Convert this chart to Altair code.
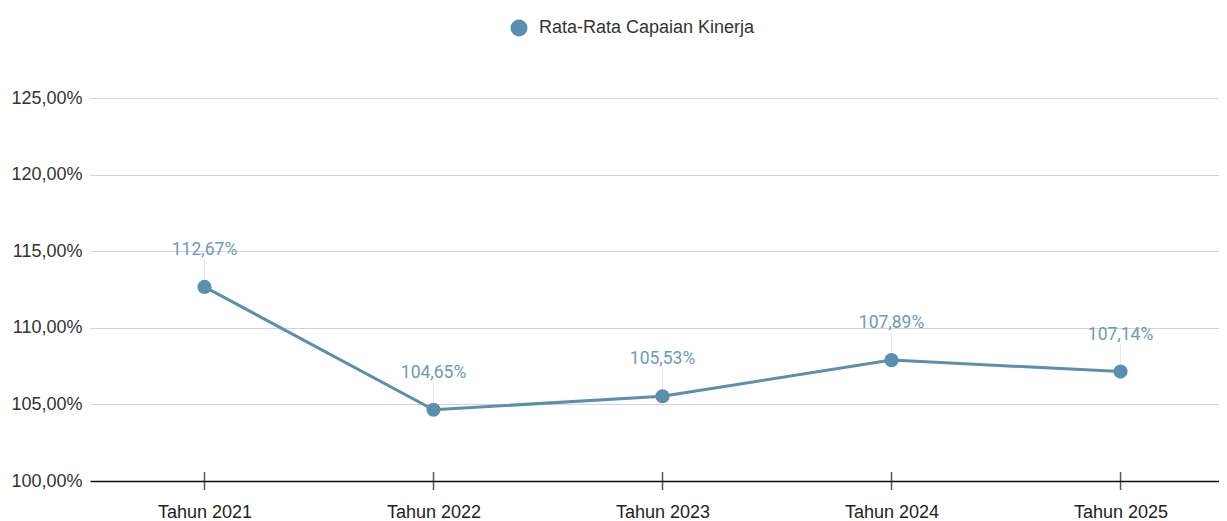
import altair as alt
import pandas as pd

years = [2021, 2022, 2023, 2024, 2025]
values = [112.67, 104.65, 105.53, 107.89, 107.14]
series_name = "Rata-Rata Capaian Kinerja"
y_ticks = [100, 105, 110, 115, 120, 125]

line_color = "#5b8fae"
label_color = "#6c9aba"

df = pd.DataFrame({
    "year": years,
    "value": values,
    "series": [series_name] * len(years),
    "label": [f"{v:.2f}".replace(".", ",") + "%" for v in values],
    "base": [100] * len(years),
})

x_enc = alt.X(
    "year:Q",
    scale=alt.Scale(domain=[2020.5, 2025.43], nice=False, zero=False),
    axis=alt.Axis(
        values=years, labelExpr="'Tahun ' + datum.value", grid=False, ticks=False,
        domain=True, domainColor="#111111", domainWidth=1.5, labelPadding=22,
        labelFontSize=18, labelColor="#222222", labelFont="Liberation Sans", title=None,
    ),
)
y_scale = alt.Scale(domain=[100, 125], nice=False, zero=False)
y_enc = alt.Y(
    "value:Q", scale=y_scale,
    axis=alt.Axis(
        values=y_ticks,
        labelExpr="replace(format(datum.value, '.2f'), '.', ',') + '%'",
        grid=True, gridColor="#d4d4d4", gridWidth=1, ticks=False, domain=False,
        labelPadding=8, minExtent=82, maxExtent=82, title=None,
        labelFontSize=18, labelColor="#333333", labelFont="Liberation Sans",
    ),
)

base = alt.Chart(df)

ticks = base.mark_tick(orient="vertical", size=18, thickness=1.5, color="#111111").encode(
    x=x_enc, y=alt.Y("base:Q", scale=y_scale)
)
leaders = base.mark_rule(color="#e6e6e6", strokeWidth=1, yOffset=-7, y2Offset=-27).encode(
    x=x_enc, y=y_enc, y2="value:Q"
)
line = base.mark_line(color=line_color, strokeWidth=3).encode(x=x_enc, y=y_enc)
points = base.mark_point(filled=True, size=200, opacity=1).encode(
    x=x_enc, y=y_enc,
    color=alt.Color(
        "series:N", scale=alt.Scale(range=[line_color]),
        legend=alt.Legend(
            orient="none", legendX=420, legendY=-79, title=None, symbolType="circle",
            symbolSize=289, symbolStrokeWidth=0, symbolOpacity=1, labelFontSize=18,
            labelColor="#333333", labelFont="Liberation Sans", labelOffset=11, padding=0,
            labelLimit=0,
        ),
    ),
)
labels = base.mark_text(dy=-37, fontSize=17.5, font="Roboto", color=label_color).encode(
    x=x_enc, y=y_enc, text="label:N"
)

chart = (
    alt.layer(ticks, leaders, line, points, labels)
    .properties(width=1129, height=383, padding={"top": 11, "left": 0, "right": 0, "bottom": 0})
    .configure_view(stroke=None)
)

chart.save("out.html", embed_options={"renderer": "svg", "actions": False})
